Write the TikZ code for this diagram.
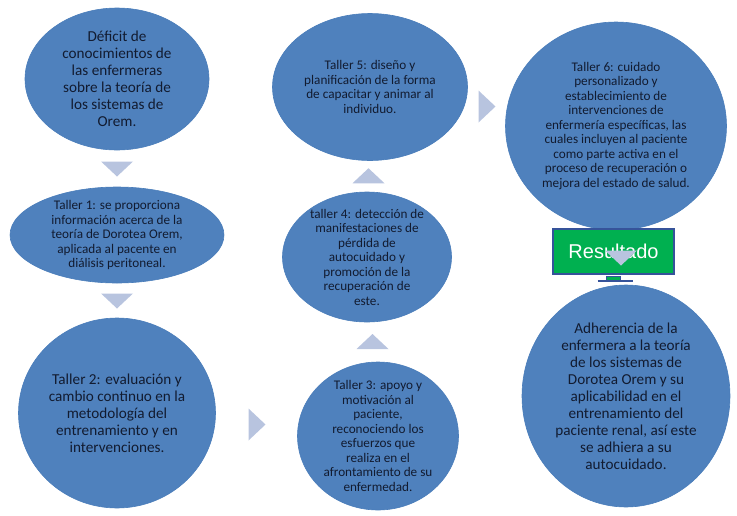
\documentclass[tikz,border=0pt]{standalone}
\usepackage{fontspec}
\setmainfont{Carlito}
\newfontfamily\arialfont{Liberation Sans}
\usetikzlibrary{shapes.geometric,calc}
\definecolor{bubblefill}{HTML}{4F81BD}
\definecolor{bubbleedge}{HTML}{4A7DBA}
\definecolor{textnavy}{HTML}{121B30}
\definecolor{chevfill}{HTML}{B8C4DF}
\definecolor{resgreen}{HTML}{00B050}
\definecolor{resedge}{HTML}{36539A}
\tikzset{
  pics/arrdown/.style={code={\fill[chevfill] (-16,-7) -- (16,-7) -- (0,8) -- cycle;}},
  pics/arrup/.style={code={\fill[chevfill] (-16,7) -- (16,7) -- (0,-8) -- cycle;}},
  pics/arrright/.style={code={\fill[chevfill] (-8,-16) -- (-8,16) -- (9,0) -- cycle;}}
}

\begin{document}
\begin{tikzpicture}[x=1pt, y=-1pt,
    bubble/.style={ellipse, fill=bubblefill, draw=bubbleedge, line width=0.6pt, inner sep=0pt},
    bigtext/.style={text=textnavy, align=center, inner sep=0pt, font=\fontsize{15.2}{17}\selectfont},
    smalltext/.style={text=textnavy, align=center, inner sep=0pt, font=\fontsize{13.2}{14.5}\selectfont}]
        \useasboundingbox (0,0) rectangle (737,515);
        % bubbles
        \node[bubble, minimum width=184, minimum height=142] (E1) at (117, 79) {};
        \node[bubble, minimum width=214, minimum height=96] (E2) at (117, 235) {};
        \node[bubble, minimum width=197, minimum height=190] (E3) at (117, 413) {};
        \node[bubble, minimum width=161, minimum height=148] (E4) at (378, 436) {};
        \node[bubble, minimum width=169, minimum height=130] (E5) at (367, 257) {};
        \node[bubble, minimum width=195, minimum height=147] (E6) at (370, 87) {};
        \node[bubble, minimum width=221, minimum height=208] (E7) at (616, 126) {};
        \node[bubble, minimum width=208, minimum height=222] (E8) at (626, 396) {};
        % texts
        \node[bigtext] (L1) at (E1) {Déficit de\\conocimientos de\\las enfermeras\\sobre la teoría de\\los sistemas de\\Orem.};
        \node[smalltext] (L2) at (E2) {Taller 1: se proporciona\\información acerca de la\\teoría de Dorotea Orem,\\aplicada al pacente en\\diálisis peritoneal.};
        \node[bigtext] (L3) at (E3) {Taller 2: evaluación y\\cambio continuo en la\\metodología del\\entrenamiento y en\\intervenciones.};
        \node[smalltext] (L4) at (E4) {Taller 3: apoyo y\\motivación al\\paciente,\\reconociendo los\\esfuerzos que\\realiza en el\\afrontamiento de su\\enfermedad.};
        \node[smalltext] (L5) at (E5) {taller 4: detección de\\manifestaciones de\\pérdida de\\autocuidado y\\promoción de la\\recuperación de\\este.};
        \node[smalltext] (L6) at (E6) {Taller 5: diseño y\\planificación de la forma\\de capacitar y animar al\\individuo.};
        \node[smalltext] (L7) at (E7) {Taller 6: cuidado\\personalizado y\\establecimiento de\\intervenciones de\\enfermería específicas, las\\cuales incluyen al paciente\\como parte activa en el\\proceso de recuperación o\\mejora del estado de salud.};
        \node[bigtext] (L8) at (E8) {Adherencia de la\\enfermera a la teoría\\de los sistemas de\\Dorotea Orem y su\\aplicabilidad en el\\entrenamiento del\\paciente renal, así este\\se adhiera a su\\autocuidado.};
        % result box
        \node[fill=resgreen, draw=resedge, line width=2.5pt, minimum width=121, minimum height=45,
              text=white, font=\arialfont\fontsize{20}{24}\selectfont] (R) at (613.5, 251.5) {Resultado};
        \filldraw[fill=resgreen, draw=resedge, line width=0.8pt] ($(R.south)+(-7.5,1.3)$) rectangle ($(R.south)+(6.5,5)$);
        \draw[resedge, line width=2.2pt] ($(R.south)+(-16,6)$) -- ($(R.south)+(19,6)$);
        % chevrons
        \pic at ($(E1.south)!0.5!(E2.north)$) {arrdown};
        \pic at ($(E2.south)!0.5!(E3.north)$) {arrdown};
        \pic at ($(E3.east)!0.5!(E4.west)$) {arrright};
        \pic at ($(E4.north)!0.5!(E5.south)$) {arrup};
        \pic at ($(E5.north)!0.5!(E6.south)$) {arrup};
        \pic at ($(E6.east)!0.5!(E7.west)$) {arrright};
        \pic at ($(E7.south)!0.5!(E8.north)$) {arrdown};
    \end{tikzpicture}
\end{document}
